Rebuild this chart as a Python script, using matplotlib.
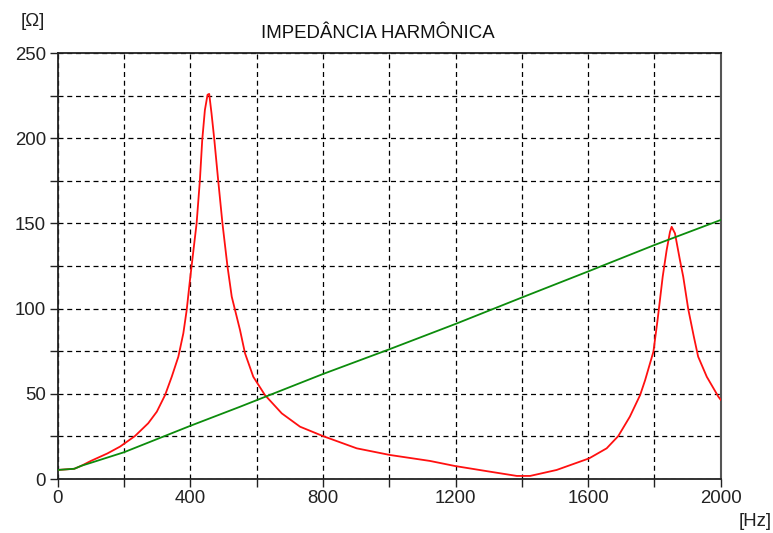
import matplotlib
matplotlib.use("Agg")
import matplotlib.pyplot as plt
from matplotlib.ticker import MultipleLocator

# Data
red_freq = [0, 50, 72, 100, 150, 188, 233, 273, 299, 324, 344, 364, 379, 389, 399,
            419, 429, 436, 444, 452, 457, 464, 472, 484, 497, 512, 525, 550, 565,
            590, 625, 676, 731, 800, 902, 1002, 1123, 1199, 1304, 1385, 1425, 1505,
            1603, 1656, 1691, 1726, 1757, 1772, 1797, 1810, 1825, 1837, 1847,
            1852, 1862, 1877, 1887, 1902, 1919, 1932, 1958, 1993, 2000]
red_imp = [5.3, 6.0, 7.8, 10.6, 15.0, 19.0, 25.2, 32.7, 39.5, 49.3, 60.0, 71.8, 85.5,
           99.0, 116.8, 150.0, 175.5, 199.0, 216.5, 225.5, 226.0, 214.6, 200.0, 175.5,
           150.0, 125.0, 107.0, 87.4, 73.8, 60.0, 49.3, 38.5, 30.7, 25.2, 18.0, 14.1,
           10.6, 7.6, 4.3, 1.8, 1.8, 5.3, 12.1, 18.0, 25.2, 36.6, 49.3, 58.0, 74.7,
           94.0, 118.7, 134.4, 145.0, 148.0, 144.2, 128.5, 118.7, 99.8, 83.5,
           71.8, 60.0, 48.3, 46.5]

green_freq = [0, 50, 72, 100, 200, 400, 550, 800, 1000, 1200, 1400, 1600, 1800, 2000]
green_imp = [5.3, 6.0, 7.8, 9.5, 15.7, 31.2, 42.4, 61.6, 76.1, 91.0, 106.5, 121.8, 137.3, 152.0]

x_ticks = [0, 400, 800, 1200, 1600, 2000]
y_ticks = [0, 50, 100, 150, 200, 250]

title = "IMPEDÂNCIA HARMÔNICA"
y_unit = "[Ω]"
x_unit = "[Hz]"

plt.rcParams['font.family'] = ['Liberation Sans', 'DejaVu Sans']

fig = plt.figure(figsize=(7.73, 5.33), dpi=100)
ax = fig.add_axes([57.7 / 773, 1 - 479 / 533, (720.7 - 57.7) / 773, (479 - 53) / 533])

ax.plot(red_freq, red_imp, color='#ff1010', lw=1.3, zorder=3)
ax.plot(green_freq, green_imp, color='#0c8c0c', lw=1.3, zorder=4)

ax.set_xlim(0, 2000)
ax.set_ylim(0, 250)
ax.set_xticks(x_ticks)
ax.set_yticks(y_ticks)
ax.xaxis.set_minor_locator(MultipleLocator(200))
ax.yaxis.set_minor_locator(MultipleLocator(25))

ax.grid(True, which='both', color='black', lw=0.9, ls=(0, (4, 3)), zorder=1)
ax.set_axisbelow(True)

ax.tick_params(axis='both', which='both', direction='out', length=5.5, width=1.0,
               color='#222222', labelsize=13.4, labelcolor='#222222')
ax.tick_params(axis='x', which='major', pad=2.5)
ax.tick_params(axis='y', which='major', pad=3)

for side in ['left', 'bottom', 'top']:
    ax.spines[side].set_color('#222222')
    ax.spines[side].set_linewidth(1.3)
ax.spines['right'].set_color('#555555')
ax.spines['right'].set_linewidth(1.5)

fig.text(378 / 773, 1 - 33 / 533, title, ha='center', va='center', fontsize=13.4, color='#111111')
fig.text(33 / 773, 1 - 21 / 533, y_unit, ha='center', va='center', fontsize=13.4, color='#222222')
fig.text(755 / 773, 1 - 522 / 533, x_unit, ha='center', va='center', fontsize=13.4, color='#222222')

fig.savefig('out.png', dpi=100, facecolor='white')
